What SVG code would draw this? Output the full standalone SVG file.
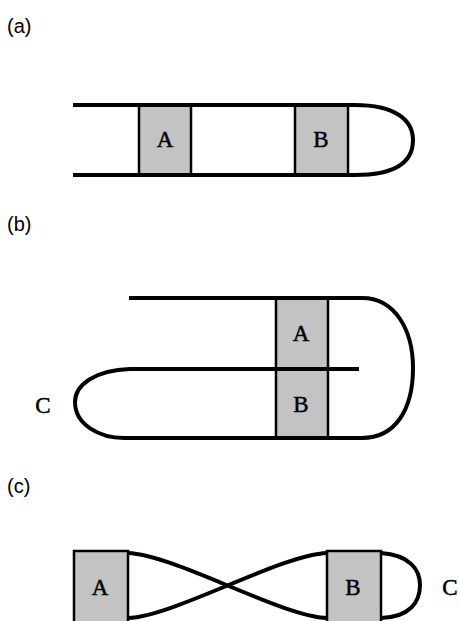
<svg xmlns="http://www.w3.org/2000/svg" width="459" height="621" viewBox="0 0 459 621">
<style>
.box{fill:#c3c3c3;stroke:#000;stroke-width:2.5}
.ln{fill:none;stroke:#000;stroke-width:4}
.lbl{font-family:"Liberation Sans",Arial,sans-serif;font-size:20px;fill:#000}
.t{font-family:"Liberation Serif","Times New Roman",serif;font-size:23px;fill:#000;stroke:#000;stroke-width:0.5;text-anchor:middle}
</style>
<rect width="459" height="621" fill="#fff"/>
<text class="lbl" x="7" y="33">(a)</text>
<text class="lbl" x="7" y="231">(b)</text>
<text class="lbl" x="7" y="493">(c)</text>
<g id="a-A"><rect class="box" x="139" y="105" width="52" height="70"/><text class="t" x="165" y="147">A</text></g>
<g id="a-B"><rect class="box" x="295" y="105" width="53" height="70"/><text class="t" x="321" y="147">B</text></g>
<g id="b-AB"><rect class="box" x="276" y="298" width="52" height="140"/><text class="t" x="301" y="341">A</text><text class="t" x="301" y="412">B</text></g>
<g id="c-A"><rect class="box" x="74" y="551" width="54" height="80"/><text class="t" x="100" y="595">A</text></g>
<g id="c-B"><rect class="box" x="327" y="551" width="54" height="80"/><text class="t" x="353" y="595">B</text></g>
<text class="t" x="43" y="413">C</text>
<text class="t" x="450" y="595">C</text>
<g id="connectors">
<path class="ln" d="M73 105 H355 C395 105 413 120 413 140 C413 162 395 175 355 175 H73"/>
<path class="ln" d="M129 298 H362 C395 298 413 330 413 368 C413 410 395 438 362 438 H124 C100 438 75 425 75 402 C75 385 95 370 130 369 H359"/>
<path class="ln" d="M128 553 C175 555 280 616 327 618"/>
<path class="ln" d="M128 618 C175 616 280 555 327 553"/>
<path class="ln" d="M381 553 C410 555 420 570 420 585 C420 602 410 617 381 618"/>
</g>
</svg>
